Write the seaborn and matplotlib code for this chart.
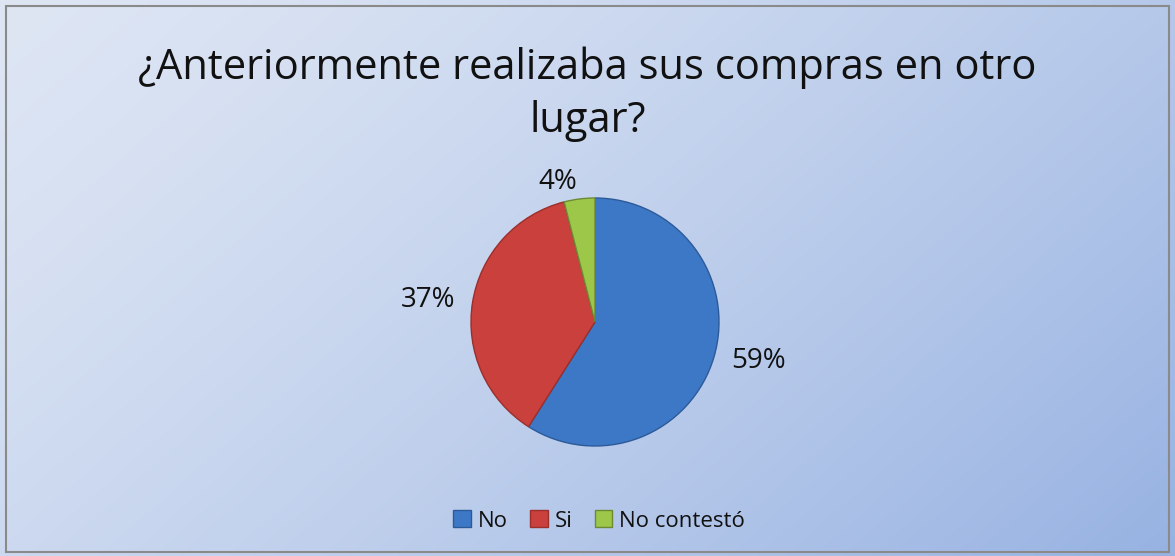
import numpy as np
import seaborn as sns
import matplotlib.pyplot as plt
from matplotlib.patches import Rectangle

categories = ['No', 'Si', 'No contestó']
values = [59, 37, 4]
pct_labels = ['59%', '37%', '4%']

sns.set_theme(style='white')
plt.rcParams['font.family'] = ['Open Sans', 'DejaVu Sans']

colors = ['#3d78c6', '#c9403c', '#9cc748']
edges = ['#2c5a99', '#9a2f2c', '#6d8a33']

fig = plt.figure(figsize=(11.75, 5.56), dpi=100)

# gradient background
bg = fig.add_axes([0, 0, 1, 1])
xx, yy = np.meshgrid(np.linspace(0, 1, 200), np.linspace(0, 1, 200))
t = np.clip(xx * 0.65 + yy * 0.35, 0, 1) ** 1.3
c0 = np.array([0xde, 0xe6, 0xf4]) / 255
c1 = np.array([0x97, 0xb2, 0xe2]) / 255
img = c0[None, None, :] * (1 - t[..., None]) + c1[None, None, :] * t[..., None]
bg.imshow(img, extent=[0, 1, 0, 1], aspect='auto', origin='upper')
bg.add_patch(Rectangle((0.005, 0.008), 0.99, 0.982, fill=False,
                       edgecolor='#8a8a8a', linewidth=1.5, transform=bg.transAxes))
bg.set_axis_off()

fig.text(0.5, 0.878, '¿Anteriormente realizaba sus compras en otro', ha='center',
         va='center', fontsize=30, color='#111111')
fig.text(0.5, 0.782, 'lugar?', ha='center', va='center', fontsize=30, color='#111111')

r_px = 124
ax = fig.add_axes([(595 - r_px) / 1175, 1 - (322 + r_px) / 556, 2 * r_px / 1175, 2 * r_px / 556])
wedges, texts = ax.pie(values, colors=colors, startangle=90, counterclock=False,
                       labels=pct_labels, labeldistance=1.14,
                       wedgeprops=dict(linewidth=1, edgecolor='#555555'),
                       textprops=dict(fontsize=20, color='#111111'))
for w, e in zip(wedges, edges):
    w.set_edgecolor(e)
ax.set_xlim(-1, 1)
ax.set_ylim(-1, 1)
ax.set_aspect('equal')

handles = [Rectangle((0, 0), 1, 1, facecolor=c, edgecolor=e) for c, e in zip(colors, edges)]
leg = fig.legend(handles, categories, loc='center', bbox_to_anchor=(0.51, 0.063), ncol=3,
                 frameon=False, fontsize=16, handlelength=0.8, handleheight=0.8,
                 handletextpad=0.3, columnspacing=1.0)
for txt in leg.get_texts():
    txt.set_color('#111111')

fig.savefig('out.png', dpi=100)
